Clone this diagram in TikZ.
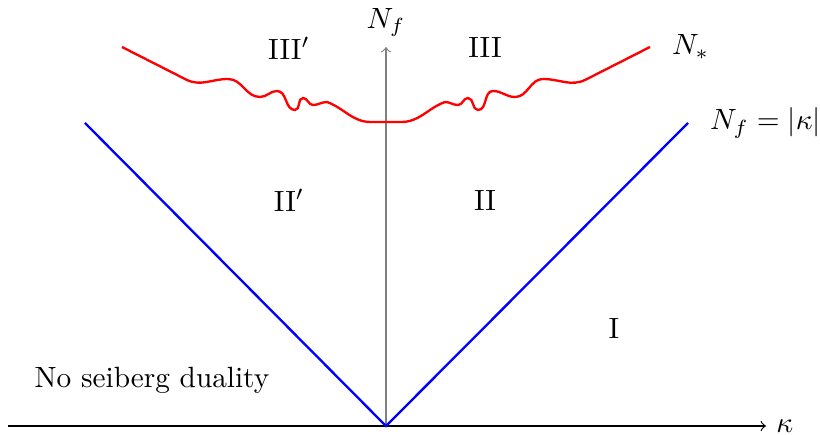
\documentclass[tikz,border=0pt]{standalone}
\usepackage{amsmath}
\usepackage{tikz}
\usetikzlibrary{positioning}

\begin{document}
\begin{tikzpicture}[
  x=0.6cm, y=0.6cm,
  axis/.style={->, thin},
  bound/.style={blue, thick},
  nstar/.style={red, thick},
  region/.style={font=\normalsize}
]
\useasboundingbox (-7.72,-0.16) rectangle (8.68,8.52);
\coordinate (O) at (0,0);
\coordinate (xl) at (-7.56,0);
\coordinate (xr) at (7.6,0);
\coordinate (yt) at (0,7.58);
\coordinate (bl) at (-6.02,6.06);
\coordinate (br) at (6.04,6.06);
\coordinate (rs) at (-5.28,7.58);
\coordinate (re) at (5.28,7.58);

% axes
\draw[axis] (xl) -- (xr) node[right] (kap) {$\kappa$};
\draw[axis, gray] (O) -- (yt) node[above, black] (nf) {$N_f$};

% N_f = |kappa|
\draw[bound] (bl) -- (O) -- (br);
\node[right=4pt of br] (bnd) {$N_f=|\kappa|$};

% N_* curve
\draw[nstar] (rs) -- (-4.0,6.93) to[out=-27, in=180] (-3.16,6.94)
  to[out=0, in=180] (-2.52,6.58) to[out=0, in=180] (-2.18,6.70)
  to[out=0, in=180] (-1.82,6.32) to[out=0, in=180] (-1.66,6.56)
  to[out=0, in=180] (-1.46,6.42) to[out=0, in=180] (-1.18,6.48)
  to[out=-20, in=180] (-0.3,6.08) -- (0.3,6.08)
  to[out=0, in=200] (1.18,6.48) to[out=0, in=180] (1.44,6.42)
  to[out=0, in=180] (1.64,6.56) to[out=0, in=180] (1.84,6.32)
  to[out=0, in=180] (2.14,6.70) to[out=0, in=180] (2.58,6.58)
  to[out=0, in=180] (3.14,6.94) to[out=0, in=207] (4.0,6.93) -- (re);
\node[right=4pt of re] (ns) {$N_*$};

% regions
\node[region] (r3p) at (-1.94,7.56) {III$'$};
\node[region] (r3) at (1.98,7.56) {III};
\node[region] (r2p) at (-1.94,4.52) {II$'$};
\node[region] (r2) at (1.98,4.52) {II};
\node[region] (r1) at (4.56,1.96) {I};
\node[region] (nosd) at (-4.68,0.92) {No seiberg duality};
\end{tikzpicture}
\end{document}
